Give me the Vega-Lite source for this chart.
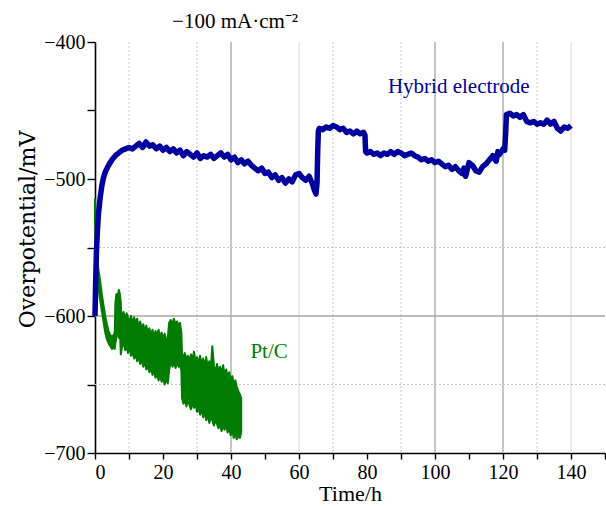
{
  "$schema": "https://vega.github.io/schema/vega-lite/v6.json",
  "autosize": "none",
  "padding": {"left": 95, "top": 42, "right": 1, "bottom": 53},
  "width": 510,
  "height": 411,
  "background": "white",
  "config": {
    "view": {"stroke": null},
    "font": "Liberation Serif",
    "axis": {
      "grid": false,
      "domainColor": "black",
      "domainWidth": 1.6,
      "tickColor": "black",
      "tickWidth": 1.4,
      "tickSize": 7,
      "labelColor": "black",
      "titleColor": "black",
      "labelFont": "Liberation Serif",
      "titleFont": "Liberation Serif",
      "labelFontSize": 20,
      "titleFontSize": 22,
      "titleFontWeight": "normal"
    }
  },
  "datasets": {
    "hybrid": [
      {"t": 0, "v": -600}, {"t": 0.2, "v": -575}, {"t": 0.4, "v": -555}, {"t": 0.7, "v": -538},
      {"t": 1.0, "v": -526}, {"t": 1.5, "v": -514}, {"t": 2, "v": -505}, {"t": 2.5, "v": -499},
      {"t": 3, "v": -495}, {"t": 4, "v": -490}, {"t": 5, "v": -486}, {"t": 6, "v": -483},
      {"t": 7, "v": -481}, {"t": 8, "v": -479}, {"t": 9, "v": -478}, {"t": 10, "v": -477},
      {"t": 11, "v": -478}, {"t": 12, "v": -476}, {"t": 13, "v": -474}, {"t": 14, "v": -477},
      {"t": 15, "v": -473}, {"t": 16, "v": -476}, {"t": 17, "v": -475}, {"t": 18, "v": -478},
      {"t": 19, "v": -476}, {"t": 20, "v": -479}, {"t": 21, "v": -477}, {"t": 22, "v": -480},
      {"t": 23, "v": -478}, {"t": 24, "v": -481}, {"t": 25, "v": -479}, {"t": 26, "v": -483},
      {"t": 27, "v": -480}, {"t": 28, "v": -482}, {"t": 29, "v": -484}, {"t": 30, "v": -481},
      {"t": 31, "v": -485}, {"t": 32, "v": -483}, {"t": 33, "v": -484}, {"t": 34, "v": -482},
      {"t": 35, "v": -485}, {"t": 36, "v": -483}, {"t": 37, "v": -481}, {"t": 38, "v": -484},
      {"t": 39, "v": -482}, {"t": 40, "v": -486}, {"t": 41, "v": -484}, {"t": 42, "v": -488},
      {"t": 43, "v": -486}, {"t": 44, "v": -489}, {"t": 45, "v": -487}, {"t": 46, "v": -490},
      {"t": 47, "v": -492}, {"t": 48, "v": -494}, {"t": 49, "v": -492}, {"t": 50, "v": -496},
      {"t": 51, "v": -495}, {"t": 52, "v": -499}, {"t": 53, "v": -497}, {"t": 54, "v": -501},
      {"t": 55, "v": -499}, {"t": 56, "v": -503}, {"t": 57, "v": -500}, {"t": 58, "v": -502},
      {"t": 59, "v": -497}, {"t": 60, "v": -496}, {"t": 61, "v": -499}, {"t": 62, "v": -501},
      {"t": 63, "v": -498}, {"t": 64, "v": -504}, {"t": 64.5, "v": -508}, {"t": 65, "v": -511},
      {"t": 65.3, "v": -503}, {"t": 65.5, "v": -480}, {"t": 65.7, "v": -465}, {"t": 66, "v": -463},
      {"t": 67, "v": -464}, {"t": 68, "v": -462}, {"t": 69, "v": -463}, {"t": 70, "v": -461},
      {"t": 71, "v": -462}, {"t": 72, "v": -464}, {"t": 73, "v": -463}, {"t": 74, "v": -466},
      {"t": 75, "v": -465}, {"t": 76, "v": -467}, {"t": 77, "v": -465}, {"t": 78, "v": -467},
      {"t": 79, "v": -466}, {"t": 79.4, "v": -468}, {"t": 79.6, "v": -480}, {"t": 80, "v": -481},
      {"t": 81, "v": -480}, {"t": 82, "v": -482}, {"t": 83, "v": -481}, {"t": 84, "v": -483},
      {"t": 85, "v": -481}, {"t": 86, "v": -482}, {"t": 87, "v": -480}, {"t": 88, "v": -482},
      {"t": 89, "v": -480}, {"t": 90, "v": -481}, {"t": 91, "v": -483}, {"t": 92, "v": -482},
      {"t": 93, "v": -481}, {"t": 94, "v": -483}, {"t": 95, "v": -484}, {"t": 96, "v": -486},
      {"t": 97, "v": -485}, {"t": 98, "v": -487}, {"t": 99, "v": -486}, {"t": 100, "v": -488},
      {"t": 101, "v": -487}, {"t": 102, "v": -489}, {"t": 103, "v": -491}, {"t": 104, "v": -490},
      {"t": 105, "v": -493}, {"t": 106, "v": -491}, {"t": 107, "v": -494}, {"t": 108, "v": -496},
      {"t": 108.5, "v": -492}, {"t": 109, "v": -498}, {"t": 110, "v": -488}, {"t": 111, "v": -490},
      {"t": 112, "v": -494}, {"t": 113, "v": -495}, {"t": 114, "v": -491}, {"t": 115, "v": -489},
      {"t": 116, "v": -486}, {"t": 117, "v": -483}, {"t": 118, "v": -487}, {"t": 118.5, "v": -480},
      {"t": 119, "v": -482}, {"t": 120, "v": -478}, {"t": 120.5, "v": -479}, {"t": 120.8, "v": -466},
      {"t": 121, "v": -453}, {"t": 122, "v": -452}, {"t": 123, "v": -454}, {"t": 124, "v": -453},
      {"t": 125, "v": -455}, {"t": 126, "v": -453}, {"t": 127, "v": -458}, {"t": 128, "v": -459},
      {"t": 129, "v": -458}, {"t": 130, "v": -460}, {"t": 131, "v": -459}, {"t": 132, "v": -460},
      {"t": 133, "v": -457}, {"t": 134, "v": -460}, {"t": 135, "v": -458}, {"t": 136, "v": -463},
      {"t": 137, "v": -465}, {"t": 138, "v": -462}, {"t": 139, "v": -463}, {"t": 140, "v": -461}
    ],
    "ptc": [
      {"t": 0, "hi": -515, "lo": -530}, {"t": 0.3, "hi": -540, "lo": -560}, {"t": 0.6, "hi": -558, "lo": -572},
      {"t": 1, "hi": -566, "lo": -580}, {"t": 1.5, "hi": -574, "lo": -588}, {"t": 2, "hi": -584, "lo": -596},
      {"t": 2.5, "hi": -592, "lo": -604}, {"t": 3, "hi": -600, "lo": -612}, {"t": 3.5, "hi": -606, "lo": -617},
      {"t": 4, "hi": -611, "lo": -620}, {"t": 4.5, "hi": -614, "lo": -622}, {"t": 5, "hi": -615, "lo": -624},
      {"t": 5.5, "hi": -614, "lo": -623}, {"t": 5.8, "hi": -612, "lo": -624}, {"t": 6.0, "hi": -590, "lo": -620},
      {"t": 6.3, "hi": -584, "lo": -615}, {"t": 6.7, "hi": -586, "lo": -612}, {"t": 7.0, "hi": -581, "lo": -616},
      {"t": 7.3, "hi": -584, "lo": -610}, {"t": 7.6, "hi": -590, "lo": -628}, {"t": 7.8, "hi": -610, "lo": -625},
      {"t": 8.0, "hi": -600, "lo": -622}, {"t": 8.4, "hi": -597, "lo": -619}, {"t": 8.9, "hi": -603, "lo": -625},
      {"t": 9.3, "hi": -598, "lo": -620}, {"t": 9.7, "hi": -601, "lo": -627}, {"t": 10.2, "hi": -604, "lo": -623},
      {"t": 10.6, "hi": -600, "lo": -629}, {"t": 11, "hi": -606, "lo": -626}, {"t": 11.5, "hi": -601, "lo": -631},
      {"t": 11.9, "hi": -605, "lo": -628}, {"t": 12.4, "hi": -602, "lo": -633}, {"t": 12.8, "hi": -608, "lo": -629},
      {"t": 13.3, "hi": -604, "lo": -635}, {"t": 13.7, "hi": -609, "lo": -631}, {"t": 14.2, "hi": -606, "lo": -637},
      {"t": 14.6, "hi": -611, "lo": -633}, {"t": 15.1, "hi": -607, "lo": -639}, {"t": 15.5, "hi": -612, "lo": -636},
      {"t": 16, "hi": -609, "lo": -641}, {"t": 16.4, "hi": -614, "lo": -637}, {"t": 16.9, "hi": -610, "lo": -643},
      {"t": 17.3, "hi": -615, "lo": -640}, {"t": 17.8, "hi": -611, "lo": -645}, {"t": 18.2, "hi": -614, "lo": -642},
      {"t": 18.7, "hi": -610, "lo": -647}, {"t": 19.1, "hi": -616, "lo": -643}, {"t": 19.6, "hi": -612, "lo": -648},
      {"t": 20, "hi": -617, "lo": -645}, {"t": 20.5, "hi": -613, "lo": -650}, {"t": 20.9, "hi": -618, "lo": -646},
      {"t": 21.4, "hi": -616, "lo": -649}, {"t": 21.8, "hi": -605, "lo": -640}, {"t": 22.3, "hi": -603, "lo": -632},
      {"t": 22.8, "hi": -606, "lo": -637}, {"t": 23.2, "hi": -602, "lo": -633}, {"t": 23.7, "hi": -606, "lo": -638},
      {"t": 24.1, "hi": -604, "lo": -634}, {"t": 24.6, "hi": -607, "lo": -637}, {"t": 25, "hi": -605, "lo": -636},
      {"t": 25.4, "hi": -612, "lo": -640}, {"t": 25.6, "hi": -628, "lo": -660}, {"t": 26, "hi": -630, "lo": -664},
      {"t": 26.4, "hi": -627, "lo": -661}, {"t": 26.9, "hi": -632, "lo": -666}, {"t": 27.3, "hi": -629, "lo": -661},
      {"t": 27.8, "hi": -633, "lo": -665}, {"t": 28.2, "hi": -628, "lo": -668}, {"t": 28.7, "hi": -632, "lo": -663},
      {"t": 29.1, "hi": -626, "lo": -667}, {"t": 29.6, "hi": -634, "lo": -664}, {"t": 30, "hi": -630, "lo": -670},
      {"t": 30.5, "hi": -635, "lo": -667}, {"t": 30.9, "hi": -629, "lo": -672}, {"t": 31.4, "hi": -636, "lo": -668},
      {"t": 31.8, "hi": -631, "lo": -674}, {"t": 32.3, "hi": -637, "lo": -670}, {"t": 32.7, "hi": -630, "lo": -676},
      {"t": 33.2, "hi": -638, "lo": -672}, {"t": 33.6, "hi": -633, "lo": -678}, {"t": 34.1, "hi": -637, "lo": -674},
      {"t": 34.5, "hi": -622, "lo": -676}, {"t": 35, "hi": -637, "lo": -680}, {"t": 35.4, "hi": -640, "lo": -676},
      {"t": 35.9, "hi": -635, "lo": -679}, {"t": 36.3, "hi": -641, "lo": -682}, {"t": 36.8, "hi": -637, "lo": -678},
      {"t": 37.2, "hi": -642, "lo": -684}, {"t": 37.7, "hi": -636, "lo": -680}, {"t": 38.1, "hi": -643, "lo": -683},
      {"t": 38.6, "hi": -639, "lo": -680}, {"t": 39, "hi": -645, "lo": -685}, {"t": 39.5, "hi": -641, "lo": -682},
      {"t": 39.9, "hi": -647, "lo": -687}, {"t": 40.4, "hi": -644, "lo": -684}, {"t": 40.8, "hi": -650, "lo": -689},
      {"t": 41.3, "hi": -647, "lo": -686}, {"t": 41.7, "hi": -652, "lo": -690}, {"t": 42.2, "hi": -655, "lo": -687},
      {"t": 42.6, "hi": -657, "lo": -689}, {"t": 43, "hi": -660, "lo": -685}
    ]
  },
  "encoding": {
    "x": {
      "type": "quantitative",
      "scale": {"domain": [0, 150], "nice": false, "zero": false},
      "axis": {
        "title": "Time/h",
        "values": [0, 10, 20, 30, 40, 50, 60, 70, 80, 90, 100, 110, 120, 130, 140, 150],
        "labelExpr": "datum.value % 20 == 0 && datum.value < 150 ? datum.label : ''",
        "labelPadding": 3,
        "titlePadding": 1,
        "tickSize": 6
      }
    },
    "y": {
      "type": "quantitative",
      "scale": {"domain": [-700, -400], "nice": false, "zero": false},
      "axis": {
        "title": "Overpotential/mV",
        "titleFont": "DejaVu Serif",
        "titleFontSize": 22,
        "titleY": 187,
        "values": [-700, -650, -600, -550, -500, -450, -400],
        "labelExpr": "datum.value % 100 == 0 ? datum.label : ''",
        "labelPadding": 2,
        "titlePadding": 4,
        "tickSize": 8
      }
    }
  },
  "layer": [
    {
      "data": {"values": [{"g": 10}, {"g": 30}, {"g": 70}, {"g": 90}, {"g": 130}]},
      "mark": {"type": "rule", "color": "#c4c4c4", "strokeWidth": 1, "strokeDash": [2, 2]},
      "encoding": {"x": {"field": "g", "type": "quantitative"}}
    },
    {
      "data": {"values": [{"g": 60}, {"g": 140}]},
      "mark": {"type": "rule", "color": "#dedede", "strokeWidth": 1.2},
      "encoding": {"x": {"field": "g", "type": "quantitative"}}
    },
    {
      "data": {"values": [{"g": 40}, {"g": 100}, {"g": 120}]},
      "mark": {"type": "rule", "color": "#a6a6a6", "strokeWidth": 1.3},
      "encoding": {"x": {"field": "g", "type": "quantitative"}}
    },
    {
      "data": {"values": [{"h": -550}, {"h": -650}]},
      "mark": {"type": "rule", "color": "#c4c4c4", "strokeWidth": 1, "strokeDash": [2, 2]},
      "encoding": {"y": {"field": "h", "type": "quantitative"}}
    },
    {
      "data": {"values": [{"h": -600}]},
      "mark": {"type": "rule", "color": "#a6a6a6", "strokeWidth": 1.3},
      "encoding": {"y": {"field": "h", "type": "quantitative"}}
    },
    {
      "data": {"name": "ptc"},
      "mark": {"type": "area", "color": "#007d00", "stroke": "#007d00", "strokeWidth": 2, "strokeJoin": "round", "opacity": 1},
      "encoding": {
        "x": {"field": "t", "type": "quantitative"},
        "y": {"field": "hi", "type": "quantitative"},
        "y2": {"field": "lo"}
      }
    },
    {
      "data": {"name": "hybrid"},
      "mark": {"type": "line", "color": "#00009e", "strokeWidth": 5.5, "strokeJoin": "round"},
      "encoding": {
        "x": {"field": "t", "type": "quantitative"},
        "y": {"field": "v", "type": "quantitative"}
      }
    },
    {
      "data": {"values": [{"t": 41.2, "v": -385.5, "label": "−100 mA·cm⁻²"}]},
      "mark": {"type": "text", "color": "black", "fontSize": 21, "font": "Liberation Serif", "align": "center", "baseline": "middle"},
      "encoding": {
        "x": {"field": "t", "type": "quantitative"},
        "y": {"field": "v", "type": "quantitative"},
        "text": {"field": "label"}
      }
    },
    {
      "data": {"values": [{"t": 107, "v": -432.5, "label": "Hybrid electrode"}]},
      "mark": {"type": "text", "color": "#00009e", "fontSize": 21, "font": "Liberation Serif", "align": "center", "baseline": "middle"},
      "encoding": {
        "x": {"field": "t", "type": "quantitative"},
        "y": {"field": "v", "type": "quantitative"},
        "text": {"field": "label"}
      }
    },
    {
      "data": {"values": [{"t": 51.2, "v": -626, "label": "Pt/C"}]},
      "mark": {"type": "text", "color": "#007d00", "fontSize": 21, "font": "Liberation Serif", "align": "center", "baseline": "middle"},
      "encoding": {
        "x": {"field": "t", "type": "quantitative"},
        "y": {"field": "v", "type": "quantitative"},
        "text": {"field": "label"}
      }
    }
  ]
}
